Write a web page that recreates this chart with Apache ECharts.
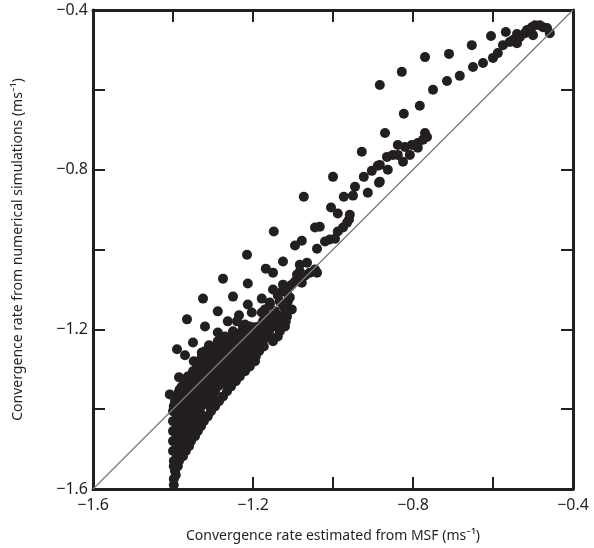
<!DOCTYPE html>
<html>
<head>
<meta charset="utf-8">
<script src="https://cdn.jsdelivr.net/npm/echarts@6/dist/echarts.min.js"></script>
<style>
  html, body { margin: 0; padding: 0; background: #fff; }
  #chart { width: 594px; height: 548px; }
</style>
</head>
<body>
<div id="chart"></div>
<script>
// Convergence rate: [estimated from MSF, from numerical simulations] (ms^-1)

// Upper branch and the cluster near -0.8
const upperPoints = [
  [-0.495,-0.438],[-0.483,-0.438],[-0.475,-0.443],[-0.465,-0.445],[-0.458,-0.458],
  [-0.503,-0.443],[-0.515,-0.450],[-0.520,-0.458],[-0.500,-0.463],[-0.540,-0.460],
  [-0.533,-0.468],[-0.550,-0.475],[-0.540,-0.483],[-0.558,-0.480],[-0.575,-0.488],
  [-0.568,-0.455],[-0.605,-0.465],[-0.588,-0.508],[-0.600,-0.520],[-0.625,-0.533],
  [-0.650,-0.543],[-0.653,-0.488],[-0.683,-0.565],[-0.710,-0.510],[-0.715,-0.578],
  [-0.750,-0.600],[-0.770,-0.518],[-0.783,-0.640],[-0.823,-0.660],[-0.828,-0.555],
  [-0.883,-0.588],[-0.870,-0.708],
  [-0.765,-0.718],[-0.770,-0.708],[-0.775,-0.725],[-0.788,-0.733],[-0.803,-0.738],
  [-0.820,-0.743],[-0.838,-0.738],[-0.850,-0.763],[-0.865,-0.768],[-0.825,-0.780],
  [-0.808,-0.763],[-0.863,-0.800],[-0.883,-0.788],[-0.883,-0.830],[-0.788,-0.745],
  [-0.838,-0.763]
];

// Middle range, scattered above and along the 1:1 line
const middlePoints = [
  [-0.928,-0.755],[-1.000,-0.818],[-0.888,-0.790],[-0.903,-0.803],[-0.923,-0.818],
  [-0.885,-0.833],[-0.945,-0.843],[-0.913,-0.858],[-0.950,-0.865],[-0.973,-0.868],
  [-1.073,-0.868],[-1.005,-0.895],[-0.988,-0.910],[-0.958,-0.913],[-0.960,-0.925],
  [-0.965,-0.933],[-0.975,-0.945],[-0.988,-0.955],[-1.033,-0.943],[-1.045,-0.945],
  [-0.995,-0.973],[-1.008,-0.975],[-1.020,-0.980],[-1.040,-0.998],[-1.078,-0.978],
  [-1.065,-1.033],[-1.045,-1.050],[-1.058,-1.058],[-1.070,-1.065],
  [-1.148,-0.955],[-1.215,-1.013],[-1.275,-1.073],[-1.325,-1.123],[-1.250,-1.118],
  [-1.213,-1.085],[-1.178,-1.123],[-1.150,-1.100],[-1.125,-1.030],[-1.168,-1.048],
  [-1.150,-1.058],[-1.095,-0.990],[-1.090,-1.063],[-1.083,-1.055],[-1.125,-1.088],
  [-1.108,-1.093],[-1.115,-1.108],[-1.213,-1.138],[-1.203,-1.158],[-1.288,-1.155],
  [-1.235,-1.165],[-1.263,-1.180],[-1.320,-1.193],[-1.288,-1.208],[-1.178,-1.158],
  [-1.158,-1.133],[-1.133,-1.130],[-1.120,-1.150],[-1.140,-1.183],[-1.165,-1.183],
  [-1.195,-1.195],[-1.225,-1.193],[-1.250,-1.208],[-1.308,-1.243],[-1.270,-1.230],
  [-1.253,-1.230],[-1.188,-1.230],[-1.215,-1.218],[-1.365,-1.175],[-1.350,-1.233],
  [-1.310,-1.240],[-1.390,-1.250],[-1.328,-1.258],[-1.370,-1.265],[-1.348,-1.280],
  [-1.385,-1.320],[-1.363,-1.318],[-1.335,-1.305],[-1.408,-1.363],[-1.383,-1.350],
  [-1.365,-1.330],
  [-1.040,-1.058],[-1.095,-1.080],[-1.078,-1.083],[-1.103,-1.088],[-1.113,-1.130],
  [-1.120,-1.168],[-1.133,-1.175],[-1.158,-1.138],[-1.150,-1.168],[-1.175,-1.205],
  [-1.190,-1.200],[-1.183,-1.225],[-1.195,-1.233],[-1.213,-1.243],[-1.225,-1.250],
  [-1.233,-1.268],[-1.245,-1.275],[-1.258,-1.258],[-1.215,-1.283],[-1.225,-1.293],
  [-1.240,-1.180],[-1.220,-1.188],[-1.170,-1.150],[-1.150,-1.193],[-1.200,-1.250],
  [-1.128,-1.105],[-1.108,-1.120],[-1.125,-1.140],[-1.103,-1.150],[-1.138,-1.115],
  [-1.083,-1.038]
];

// Dense core at low rates
const corePoints = [
  [-1.145,-1.155],[-1.118,-1.155],
  [-1.158,-1.168],[-1.133,-1.168],[-1.115,-1.168],
  [-1.175,-1.180],[-1.150,-1.180],[-1.118,-1.180],
  [-1.208,-1.193],[-1.185,-1.193],[-1.163,-1.193],[-1.140,-1.193],[-1.120,-1.193],
  [-1.250,-1.205],[-1.228,-1.205],[-1.205,-1.205],[-1.183,-1.205],[-1.160,-1.205],[-1.133,-1.205],
  [-1.270,-1.218],[-1.248,-1.218],[-1.225,-1.218],[-1.203,-1.218],[-1.180,-1.218],[-1.158,-1.218],[-1.138,-1.218],
  [-1.288,-1.230],[-1.265,-1.230],[-1.243,-1.230],[-1.220,-1.230],[-1.198,-1.230],[-1.175,-1.230],[-1.150,-1.230],
  [-1.308,-1.243],[-1.285,-1.243],[-1.263,-1.243],[-1.240,-1.243],[-1.218,-1.243],[-1.195,-1.243],[-1.173,-1.243],
  [-1.320,-1.255],[-1.298,-1.255],[-1.275,-1.255],[-1.253,-1.255],[-1.230,-1.255],[-1.208,-1.255],[-1.185,-1.255],
  [-1.328,-1.268],[-1.305,-1.268],[-1.283,-1.268],[-1.260,-1.268],[-1.238,-1.268],[-1.215,-1.268],[-1.193,-1.268],
  [-1.333,-1.280],[-1.310,-1.280],[-1.288,-1.280],[-1.265,-1.280],[-1.243,-1.280],[-1.220,-1.280],[-1.195,-1.280],
  [-1.340,-1.293],[-1.318,-1.293],[-1.295,-1.293],[-1.273,-1.293],[-1.250,-1.293],[-1.228,-1.293],[-1.208,-1.293],
  [-1.350,-1.305],[-1.328,-1.305],[-1.305,-1.305],[-1.283,-1.305],[-1.260,-1.305],[-1.238,-1.305],[-1.220,-1.305],
  [-1.360,-1.318],[-1.338,-1.318],[-1.315,-1.318],[-1.293,-1.318],[-1.270,-1.318],[-1.248,-1.318],[-1.233,-1.318],
  [-1.370,-1.330],[-1.348,-1.330],[-1.325,-1.330],[-1.303,-1.330],[-1.280,-1.330],[-1.258,-1.330],[-1.243,-1.330],
  [-1.378,-1.343],[-1.355,-1.343],[-1.333,-1.343],[-1.310,-1.343],[-1.288,-1.343],[-1.265,-1.343],[-1.255,-1.343],
  [-1.385,-1.355],[-1.363,-1.355],[-1.340,-1.355],[-1.318,-1.355],[-1.295,-1.355],[-1.265,-1.355],
  [-1.390,-1.368],[-1.368,-1.368],[-1.345,-1.368],[-1.323,-1.368],[-1.300,-1.368],[-1.275,-1.368],
  [-1.395,-1.380],[-1.373,-1.380],[-1.350,-1.380],[-1.328,-1.380],[-1.305,-1.380],[-1.285,-1.380],
  [-1.398,-1.393],[-1.375,-1.393],[-1.353,-1.393],[-1.330,-1.393],[-1.308,-1.393],[-1.295,-1.393],
  [-1.400,-1.405],[-1.378,-1.405],[-1.355,-1.405],[-1.333,-1.405],[-1.305,-1.405],
  [-1.390,-1.418],[-1.368,-1.418],[-1.345,-1.418],[-1.323,-1.418],[-1.313,-1.418],
  [-1.400,-1.430],[-1.380,-1.430],[-1.360,-1.430],[-1.340,-1.430],[-1.323,-1.430],
  [-1.390,-1.443],[-1.368,-1.443],[-1.345,-1.443],[-1.330,-1.443],
  [-1.400,-1.455],[-1.380,-1.455],[-1.358,-1.455],[-1.338,-1.455],
  [-1.390,-1.468],[-1.368,-1.468],[-1.345,-1.468],
  [-1.400,-1.480],[-1.380,-1.480],[-1.355,-1.480],
  [-1.390,-1.493],[-1.370,-1.493],[-1.360,-1.493],
  [-1.400,-1.505],[-1.383,-1.505],[-1.368,-1.505],
  [-1.390,-1.518],[-1.375,-1.518],
  [-1.398,-1.530],[-1.385,-1.530],
  [-1.398,-1.543],[-1.388,-1.543],
  [-1.395,-1.555],[-1.393,-1.565],[-1.398,-1.575],[-1.398,-1.590],
  [-1.385,-1.400],[-1.385,-1.425],[-1.385,-1.450],[-1.385,-1.475],[-1.378,-1.500],
  [-1.365,-1.385],[-1.360,-1.410],[-1.352,-1.435],[-1.352,-1.460],[-1.340,-1.400]
];

// 1:1 reference line end points
const identityLine = [[-1.6, -1.6], [-0.4, -0.4]];

// Axis range, tick step and labelled ticks
const axisMin = -1.6;
const axisMax = -0.4;
const tickStep = 0.2;
const tickLabels = { '-1.6': '\u22121.6', '-1.2': '\u22121.2', '-0.8': '\u22120.8', '-0.4': '\u22120.4' };

const ink = '#231f20';
const fontFamily = '"Noto Sans", "Open Sans", sans-serif';

function labelFor(v) {
  return tickLabels[v.toFixed(1)] || '';
}

function makeAxis(extra) {
  return Object.assign({
    type: 'value',
    min: axisMin,
    max: axisMax,
    interval: tickStep,
    splitLine: { show: false },
    axisLine: { show: true, onZero: false, lineStyle: { color: ink, width: 3 } },
    axisTick: { show: true, inside: true, length: 12, lineStyle: { color: ink, width: 2 } },
    axisLabel: { show: false }
  }, extra);
}

const chart = echarts.init(document.getElementById('chart'), null, { renderer: 'canvas' });

chart.setOption({
  animation: false,
  backgroundColor: '#ffffff',
  grid: { left: 93, right: 21, top: 10, bottom: 59, containLabel: false, outerBoundsMode: 'none' },
  xAxis: [
    makeAxis({
      position: 'bottom',
      name: 'Convergence rate estimated from MSF (ms\u207B\u00B9)',
      nameLocation: 'middle',
      nameGap: 40,
      nameTextStyle: { color: ink, fontSize: 14, fontFamily: fontFamily },
      axisLabel: { show: true, color: ink, fontSize: 16, fontFamily: fontFamily, margin: 8, formatter: labelFor }
    }),
    makeAxis({ position: 'top' })
  ],
  yAxis: [
    makeAxis({
      position: 'left',
      name: 'Convergence rate from numerical simulations (ms\u207B\u00B9)',
      nameLocation: 'middle',
      nameGap: 68,
      nameTextStyle: { color: ink, fontSize: 14, fontFamily: fontFamily },
      axisLabel: { show: true, color: ink, fontSize: 16, fontFamily: fontFamily, margin: 5, formatter: labelFor }
    }),
    makeAxis({ position: 'right' })
  ],
  series: [
    {
      type: 'scatter',
      data: upperPoints.concat(middlePoints, corePoints),
      symbol: 'circle',
      symbolSize: 10,
      itemStyle: { color: ink, opacity: 1 },
      emphasis: { disabled: true },
      z: 2
    },
    {
      type: 'line',
      data: identityLine,
      showSymbol: false,
      symbol: 'none',
      lineStyle: { color: '#7a7a7a', width: 1.3 },
      emphasis: { disabled: true },
      z: 3
    }
  ]
});
</script>
</body>
</html>
